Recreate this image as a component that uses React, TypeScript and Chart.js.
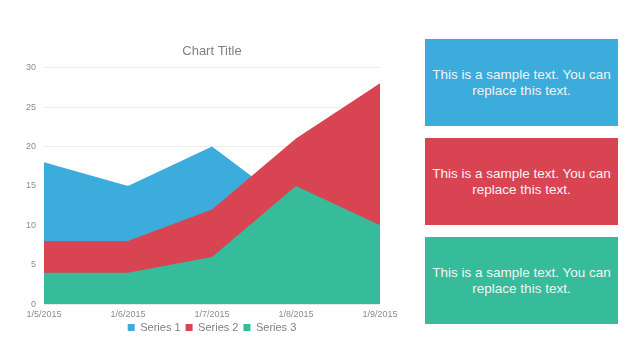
import React, { useEffect, useRef } from "react";
import { Chart, registerables } from "chart.js";

Chart.register(...registerables);

const categories = ["1/5/2015", "1/6/2015", "1/7/2015", "1/8/2015", "1/9/2015"];
const series1 = [18, 15, 20, 12, 21];
const series2 = [8, 8, 12, 21, 28];
const series3 = [4, 4, 6, 15, 10];
const seriesNames = ["Series 1", "Series 2", "Series 3"];
const colors = ["#3BACDB", "#D94453", "#36BC9B"];
const boxText = "This is a sample text. You can replace this text.";

const FONT = "'Liberation Sans', Arial, sans-serif";

export default function App() {
  const ref = useRef<HTMLCanvasElement | null>(null);

  useEffect(() => {
    if (!ref.current) return;
    const values = [series1, series2, series3];
    const chart = new Chart(ref.current, {
      type: "line",
      data: {
        labels: categories,
        datasets: values.map((v, i) => ({
          label: seriesNames[i],
          data: v,
          backgroundColor: colors[i],
          borderColor: colors[i],
          borderWidth: 0,
          pointRadius: 0,
          fill: "origin",
          tension: 0,
          order: 3 - i,
        })),
      },
      options: {
        animation: false,
        responsive: false,
        maintainAspectRatio: false,
        layout: { padding: { left: 0, right: 20, top: 0, bottom: 0 } },
        plugins: {
          title: {
            display: true,
            fullSize: false,
            text: "Chart Title",
            color: "#808080",
            font: { family: FONT, size: 13, weight: "normal" },
            padding: { top: 4, bottom: 8 },
          },
          legend: {
            position: "bottom",
            fullSize: false,
            labels: {
              sort: (a: any, b: any) => a.datasetIndex - b.datasetIndex,
              boxWidth: 7,
              boxHeight: 7,
              padding: 5,
              color: "#7f7f7f",
              font: { family: FONT, size: 11 },
            },
          },
          tooltip: { enabled: false },
        },
        scales: {
          x: {
            offset: false,
            grid: { display: false },
            border: { display: false },
            ticks: {
              color: "#8c8c8c",
              font: { family: FONT, size: 9 },
              maxRotation: 0,
              padding: -3,
            },
          },
          y: {
            min: 0,
            max: 30,
            ticks: {
              stepSize: 5,
              color: "#8c8c8c",
              font: { family: FONT, size: 9 },
              padding: 8,
            },
            grid: { color: "#ececec", drawTicks: false },
            border: { display: false },
            afterFit: (s: any) => {
              s.width = 24;
            },
          },
        },
      },
    });
    return () => chart.destroy();
  }, []);

  const boxes = [
    { top: 39, color: colors[0] },
    { top: 138, color: colors[1] },
    { top: 237, color: colors[2] },
  ];

  return (
    <div
      style={{
        position: "fixed",
        left: 0,
        top: 0,
        width: 640,
        height: 360,
        background: "#ffffff",
        overflow: "hidden",
      }}
    >
      <canvas
        ref={ref}
        width={380}
        height={303}
        style={{ position: "absolute", left: 20, top: 40, width: 380, height: 303 }}
      />
      {boxes.map((b, i) => (
        <div
          key={i}
          style={{
            position: "absolute",
            left: 425,
            top: b.top,
            width: 193,
            height: 87,
            background: b.color,
            display: "flex",
            alignItems: "center",
            justifyContent: "center",
            textAlign: "center",
            color: "#f4f4f4",
            fontFamily: FONT,
            fontSize: 13.5,
            lineHeight: "16px",
            padding: "0 6px",
            boxSizing: "border-box",
          }}
        >
          {boxText}
        </div>
      ))}
    </div>
  );
}
